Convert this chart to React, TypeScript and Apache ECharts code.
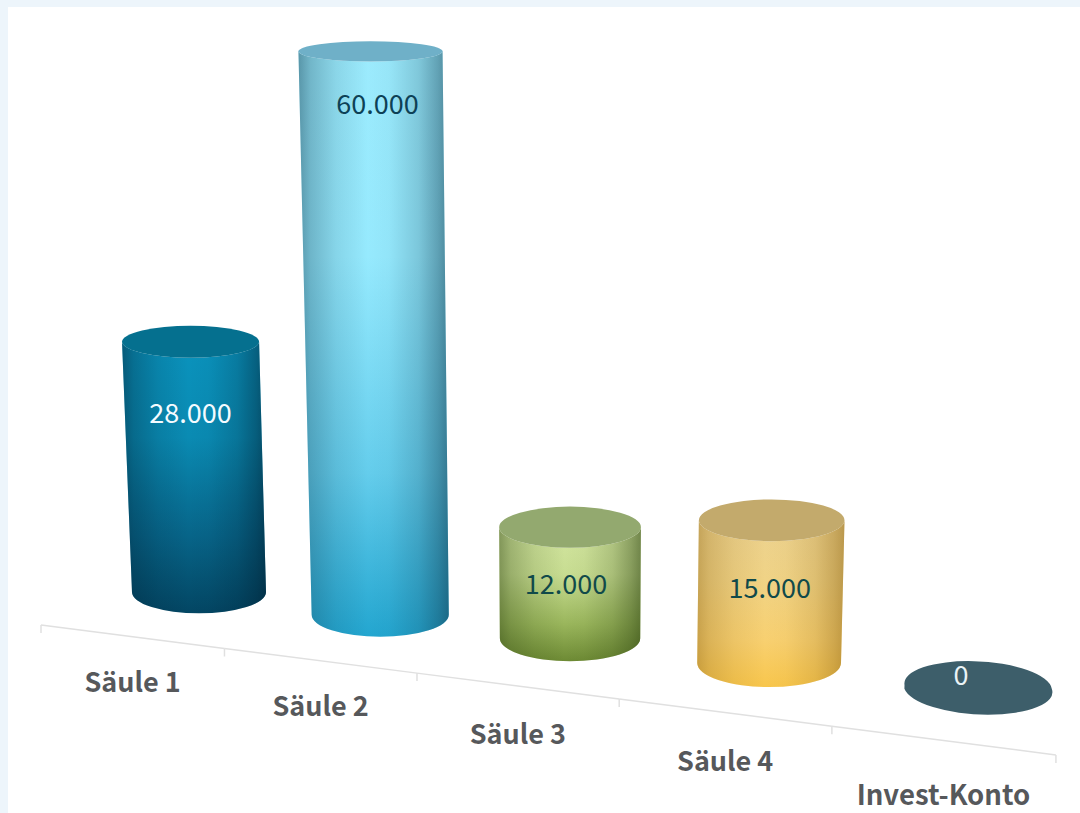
import React, { useEffect, useRef } from "react";
import * as echarts from "echarts";

const categories = ["Säule 1", "Säule 2", "Säule 3", "Säule 4", "Invest-Konto"];
const values = [28000, 60000, 12000, 15000, 0];
const valueLabels = ["28.000", "60.000", "12.000", "15.000", "0"];

// Vertical body ramps, one per column, top to bottom.
const bodyRamps = [
  ["#0a93bd", "#0a8bb3", "#076488", "#034663"],
  ["#9cebfd", "#96eafe", "#64cdec", "#23a6d0"],
  ["#d3e6a0", "#c8dd92", "#9ab65c", "#6d8a34"],
  ["#ecd28f", "#f0d386", "#f8d070", "#f8c64c"],
  ["#3d5e6a", "#3d5e6a", "#3d5e6a", "#3d5e6a"],
];
// Colour the round shading darkens towards, per column.
const rimTints = ["0,30,48", "16,58,78", "44,66,16", "150,110,30", "0,0,0"];
const capColors = ["#05708f", "#6fb0c8", "#93a96f", "#c3aa6c", "#3d5e6a"];
const labelColors = ["#f4fbff", "#0d4156", "#114a4a", "#114a4a", "#eaf3f6"];
// Where each value label sits relative to its cap centre.
const labelShift = [[0, 70], [7, 51.5], [-4, 55], [-2, 66.5], [-17, -15]];
const axisLabelDrop = [44, 44, 46, 46.5, 52.5];

const FONT = '"Noto Sans CJK SC", "Noto Sans", sans-serif';

// Ground plane perspective: bands along the tilted axis line.
const railX = (t: number) => (178.2 * t + 41) / (1 - 0.02347 * t);
const railY = (x: number) => 625 + 0.128 * (x - 41);
// Column feet stand on a parallel line further back.
const footX = (u: number) => (172.6 * u + 199) / (1 - 0.02267 * u);
const footScale = (u: number) => 1 / (1 - 0.02267 * u);
// Vertical lines converge on a point far below the chart.
const VANISH_X = 570;
const VANISH_DEPTH = 11000;

const renderColumn = (params: any, api: any) => {
  const value = api.value(1);
  const band = api.size([1, 0])[0];
  const left = api.coord([0, 0])[0];
  const u = Math.round((api.coord([api.value(0), 0])[0] - left) / band);
  const s = footScale(u);
  const rawH = api.size([0, value])[1] * s;
  const H = rawH * (1 + rawH / VANISH_DEPTH);

  const rx = 67 * s;
  const ry = 21 * s * s;
  const xb = footX(u);
  const yb = railY(xb) - 32 + 0.3 * u - ry;
  const grow = 1 + H / VANISH_DEPTH;
  const xt = VANISH_X + (xb - VANISH_X) * grow;
  const yt = yb - H;
  const rxt = rx * grow;
  const ryt = ry * (1 - H / 1040);

  // A column of no height is only a disc lying on the slanted floor.
  const tilt = value > 0 ? 0 : 3;
  const dx = rxt * Math.cos((tilt * Math.PI) / 180);
  const dy = rxt * Math.sin((tilt * Math.PI) / 180);

  const body = `M${xt - rxt} ${yt} L${xb - rx} ${yb} A${rx} ${ry} 0 0 0 ${xb + rx} ${yb} L${xt + rxt} ${yt} A${rxt} ${ryt} 0 0 1 ${xt - rxt} ${yt} Z`;
  const cap = `M${xt - dx} ${yt - dy} A${rxt} ${ryt} ${tilt} 0 1 ${xt + dx} ${yt + dy} A${rxt} ${ryt} ${tilt} 0 1 ${xt - dx} ${yt - dy} Z`;

  const ramp = bodyRamps[u];
  const rim = rimTints[u];
  const children: any[] = [];
  if (value > 0) {
    children.push({
      type: "path",
      shape: { pathData: body },
      style: {
        fill: new echarts.graphic.LinearGradient(0, 0, 0, 1, [
          { offset: 0, color: ramp[0] },
          { offset: 0.35, color: ramp[1] },
          { offset: 0.72, color: ramp[2] },
          { offset: 1, color: ramp[3] },
        ]),
      },
    });
    // Round shading across the body: dark rims fading out towards the middle.
    children.push({
      type: "path",
      shape: { pathData: body },
      style: {
        fill: new echarts.graphic.LinearGradient(0, 0, 1, 0, [
          { offset: 0, color: `rgba(${rim},0.48)` },
          { offset: 0.08, color: `rgba(${rim},0.3)` },
          { offset: 0.25, color: `rgba(${rim},0.12)` },
          { offset: 0.46, color: `rgba(${rim},0)` },
          { offset: 0.6, color: `rgba(${rim},0.03)` },
          { offset: 0.8, color: `rgba(${rim},0.2)` },
          { offset: 0.93, color: `rgba(${rim},0.42)` },
          { offset: 1, color: `rgba(${rim},0.58)` },
        ]),
      },
    });
  }
  children.push({ type: "path", shape: { pathData: cap }, style: { fill: capColors[u] } });
  children.push({
    type: "text",
    style: {
      x: xt + labelShift[u][0],
      y: yt + labelShift[u][1],
      text: valueLabels[u],
      fill: labelColors[u],
      font: `400 27px ${FONT}`,
      align: "center",
      verticalAlign: "middle",
    },
  });
  const lx = railX(u + 0.5) + 1;
  children.push({
    type: "text",
    style: {
      x: lx,
      y: railY(lx) + axisLabelDrop[u],
      text: categories[u],
      fill: "#56585b",
      font: `700 ${u === 4 ? 27.5 : 27}px ${FONT}`,
      align: "center",
      verticalAlign: "middle",
    },
  });
  return { type: "group", children };
};

// The tilted axis: a rail segment and a tick for each band boundary.
const renderRail = (params: any, api: any) => {
  const t = api.value(0);
  const x0 = railX(t);
  const children: any[] = [
    {
      type: "line",
      shape: { x1: x0, y1: railY(x0), x2: x0, y2: railY(x0) + 8 },
      style: { stroke: "#e0e0e0", lineWidth: 1.5 },
    },
  ];
  if (t < categories.length) {
    const x1 = railX(t + 1);
    children.push({
      type: "line",
      shape: { x1: x0, y1: railY(x0), x2: x1, y2: railY(x1) },
      style: { stroke: "#e0e0e0", lineWidth: 1.5 },
    });
  }
  return { type: "group", children };
};

export default function App() {
  const ref = useRef<HTMLDivElement>(null);

  useEffect(() => {
    const chart = echarts.init(ref.current!, null, { renderer: "svg" });
    chart.setOption({
      animation: false,
      tooltip: { show: false },
      // The flat value scale the perspective is applied to: 8.75px per 1.000.
      grid: { left: 100, top: 100, width: 800, height: 525 },
      xAxis: { type: "category", data: categories, show: false },
      yAxis: { type: "value", min: 0, max: 60000, show: false },
      series: [
        {
          type: "custom",
          silent: true,
          coordinateSystem: "none",
          data: [0, 1, 2, 3, 4, 5].map((t) => [t]),
          renderItem: renderRail,
          encode: { x: 0 },
        },
        {
          type: "custom",
          silent: true,
          data: values.map((v, i) => [i, v]),
          renderItem: renderColumn,
          encode: { x: 0, y: 1 },
          clip: false,
        },
      ],
    });
    return () => chart.dispose();
  }, []);

  return (
    <div style={{ position: "fixed", left: 0, top: 0, width: 1080, height: 813, background: "#edf5fb", overflow: "hidden" }}>
      <div style={{ position: "absolute", left: 8, top: 7, right: 0, bottom: 0, background: "#ffffff" }} />
      <div ref={ref} style={{ position: "absolute", left: 0, top: 0, width: 1080, height: 813 }} />
    </div>
  );
}
